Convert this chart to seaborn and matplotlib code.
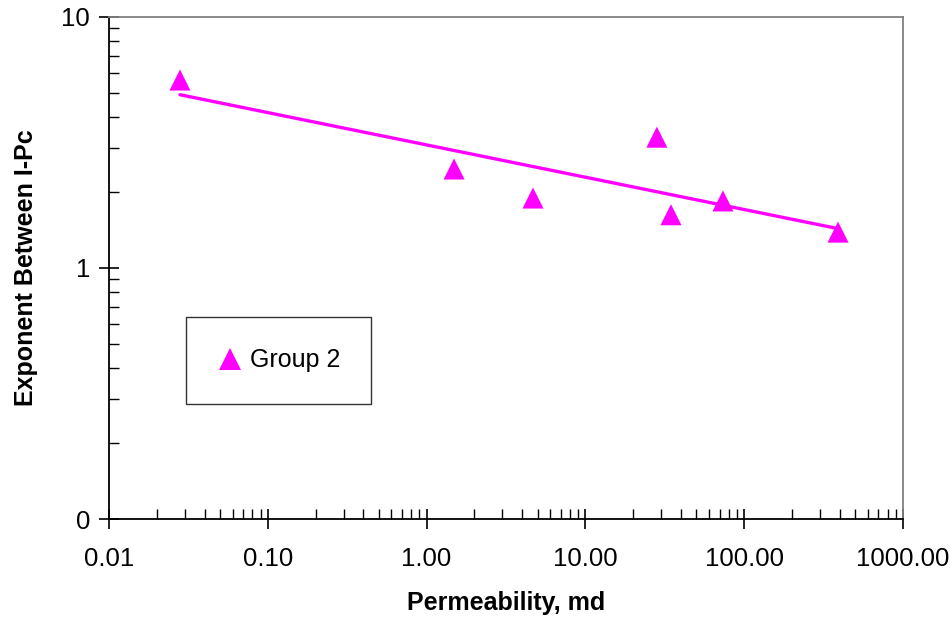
import numpy as np
import pandas as pd
import matplotlib
matplotlib.use("Agg")
import matplotlib.pyplot as plt
import seaborn as sns
from matplotlib.ticker import FixedLocator, FixedFormatter, LogLocator, NullFormatter

# Data
permeability = [0.028, 1.49, 4.68, 28.2, 34.6, 73.5, 390.0]
exponent = [5.61, 2.48, 1.90, 3.32, 1.63, 1.85, 1.39]
series_name = "Group 2"
x_ticks = [0.01, 0.1, 1, 10, 100, 1000]
x_tick_labels = ["0.01", "0.10", "1.00", "10.00", "100.00", "1000.00"]
y_ticks = [0.1, 1, 10]
y_tick_labels = ["0", "1", "10"]

sns.set_style("white")
plt.rcParams['font.family'] = ['Liberation Sans', 'DejaVu Sans']
plt.rcParams['text.color'] = 'black'
plt.rcParams['axes.labelcolor'] = 'black'
plt.rcParams['xtick.color'] = 'black'
plt.rcParams['ytick.color'] = 'black'

df = pd.DataFrame({"k": permeability, "n": exponent, "group": series_name})

# power-law trendline fitted to the data
b, a = np.polyfit(np.log10(df["k"]), np.log10(df["n"]), 1)
xfit = np.logspace(np.log10(min(permeability)), np.log10(max(permeability)), 50)
trend = pd.DataFrame({"k": xfit, "n": 10 ** (a + b * np.log10(xfit))})

fig = plt.figure(figsize=(9.5, 6.2), dpi=100)
ax = fig.add_axes([0.1147, 0.1629, 0.8358, 0.8097])

sns.lineplot(data=trend, x="k", y="n", ax=ax, color="#FF00FF", linewidth=2.4, legend=False)
sns.scatterplot(data=df, x="k", y="n", hue="group", palette={series_name: "#FF00FF"},
                marker="^", s=230, edgecolor="none", ax=ax, zorder=5)

ax.set_xscale("log")
ax.set_yscale("log")
ax.set_xlim(0.01, 1000)
ax.set_ylim(0.1, 10)

ax.xaxis.set_major_locator(FixedLocator(x_ticks))
ax.xaxis.set_major_formatter(FixedFormatter(x_tick_labels))
ax.xaxis.set_minor_locator(LogLocator(base=10, subs=np.arange(2, 10)))
ax.xaxis.set_minor_formatter(NullFormatter())
ax.yaxis.set_major_locator(FixedLocator(y_ticks))
ax.yaxis.set_major_formatter(FixedFormatter(y_tick_labels))
ax.yaxis.set_minor_locator(LogLocator(base=10, subs=np.arange(2, 10)))
ax.yaxis.set_minor_formatter(NullFormatter())

ax.tick_params(which="both", bottom=True, left=True, top=False, right=False)
ax.tick_params(which="major", direction="inout", length=15, width=1.2, color="black",
               labelsize=18.5, labelcolor="black", pad=6)
ax.tick_params(which="minor", direction="in", length=7, width=1.0, color="black")
ax.tick_params(axis="x", which="major", pad=13)

for s in ["left", "bottom"]:
    ax.spines[s].set_color("black")
    ax.spines[s].set_linewidth(1.3)
for s in ["top", "right"]:
    ax.spines[s].set_color("#808080")
    ax.spines[s].set_linewidth(1.3)

ax.set_xlabel("Permeability, md", fontsize=18, fontweight="bold", labelpad=14, color="black")
ax.set_ylabel("Exponent Between I-Pc", fontsize=18, fontweight="bold", labelpad=17, color="black")

leg = ax.legend(loc="upper left", bbox_to_anchor=(0.097, 0.402), fontsize=18,
                frameon=True, fancybox=False, shadow=False, borderpad=1.25,
                handletextpad=0.3, handlelength=1.0, borderaxespad=0)
leg.get_frame().set_edgecolor("black")
leg.get_frame().set_linewidth(1.0)
for t in leg.get_texts():
    t.set_color("black")
for h in leg.legend_handles:
    try:
        h.set_sizes([200])
    except Exception:
        pass

fig.savefig("out.png", dpi=100)
